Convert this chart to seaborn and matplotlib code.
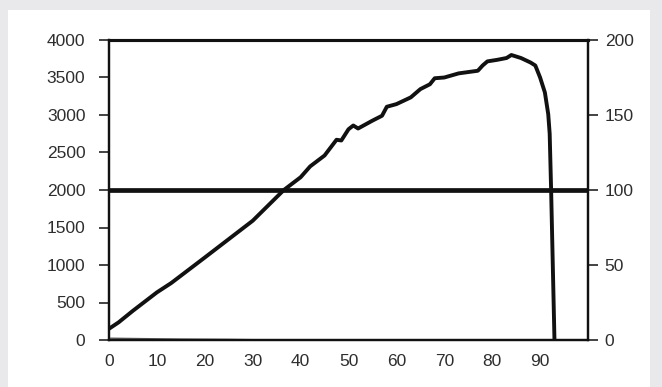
import matplotlib
matplotlib.use("Agg")
import matplotlib.pyplot as plt
import seaborn as sns
import pandas as pd

# main curve (left axis)
x_vals = [0, 2, 5, 10, 13, 20, 30, 36.5, 40, 42, 45, 47.5, 48.5, 50, 51, 52, 55,
          57, 58, 60, 63, 65, 67, 68, 70, 73, 77, 78, 79, 81, 83, 84, 86, 88, 89,
          90, 91, 91.7, 92, 92.3, 93]
y_vals = [150, 235, 390, 635, 760, 1100, 1590, 2000, 2170, 2315, 2460, 2670, 2660,
          2810, 2860, 2820, 2925, 2990, 3110, 3145, 3235, 3345, 3410, 3490, 3500,
          3555, 3590, 3660, 3715, 3735, 3760, 3800, 3760, 3700, 3660, 3500, 3300,
          3010, 2750, 2000, 0]

# faint near-zero series (right axis)
x_low = [0, 5, 15, 25, 35]
y_low = [1.2, 1.0, 0.6, 0.4, 0.0]

ref_level = 2000

df = pd.DataFrame({"x": x_vals, "y": y_vals})
df_low = pd.DataFrame({"x": x_low, "y": y_low})

sns.set_style("white")
plt.rcParams["font.family"] = ["Liberation Sans Narrow", "Liberation Sans", "DejaVu Sans"]

fig = plt.figure(figsize=(6.62, 3.87), dpi=100)
fig.patch.set_facecolor("#e9e9eb")
# white panel
panel = fig.add_axes([8 / 662, 0, 642 / 662, 1 - 10 / 387])
panel.set_facecolor("white")
panel.set_xticks([])
panel.set_yticks([])
for s in panel.spines.values():
    s.set_visible(False)

ax = fig.add_axes([109 / 662, 1 - 340 / 387, (588 - 109) / 662, 300 / 387])
ax.set_facecolor("white")
sns.lineplot(data=df, x="x", y="y", ax=ax, color="#111111", linewidth=2.8,
             sort=False, estimator=None)
ax.axhline(ref_level, color="#111111", linewidth=3.4)

ax.set_xlim(0, 100)
ax.set_ylim(0, 4000)
ax.set_xticks(range(0, 101, 10))
ax.set_xticklabels([str(v) for v in range(0, 100, 10)] + [""])
ax.set_yticks(range(0, 4001, 500))
ax.set_xlabel("")
ax.set_ylabel("")

ax2 = ax.twinx()
sns.lineplot(data=df_low, x="x", y="y", ax=ax2, color="#555555", linewidth=1.0,
             estimator=None)
ax2.set_ylim(0, 200)
ax2.set_yticks(range(0, 201, 50))
ax2.set_ylabel("")

for a in (ax, ax2):
    for s in a.spines.values():
        s.set_color("#111111")
        s.set_linewidth(1.6)
    a.spines["top"].set_linewidth(2.2)
    a.tick_params(direction="out", length=7, width=1.1, color="#111111",
                  labelsize=12.5, labelcolor="#2e2e2e", pad=10)
ax.tick_params(axis="x", pad=3)
ax2.tick_params(axis="y", pad=5)

fig.savefig("out.png", dpi=100)
